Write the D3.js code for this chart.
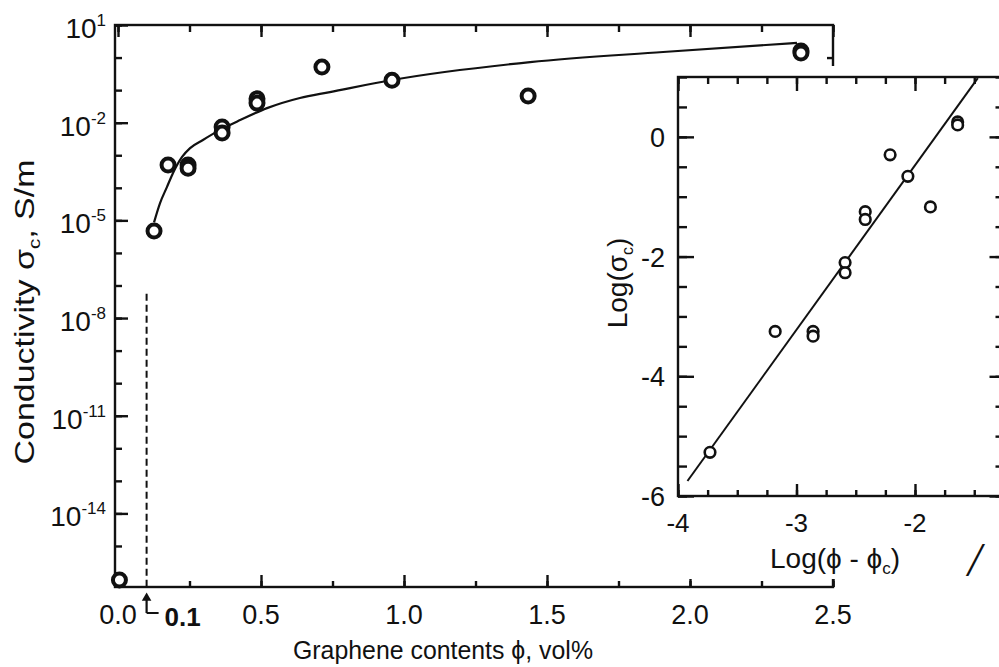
<!DOCTYPE html>
<html>
<head>
<meta charset="utf-8">
<script src="https://cdn.jsdelivr.net/npm/d3@7"></script>
<style>
  body { margin: 0; background: #fff; }
  svg { display: block; font-family: "Liberation Sans", Arial, sans-serif; }
  .axis path, .axis line { stroke: #111; stroke-width: 2.4; }
</style>
</head>
<body>
<svg width="999" height="667"></svg>
<script>
// main panel: measured points (phi in vol%, sigma in S/m)
const phi = [0.005, 0.126, 0.175, 0.245, 0.245, 0.364, 0.364, 0.486, 0.486, 0.713, 0.958, 1.434, 2.388, 2.388];
const sigma = [9e-17, 4.7e-6, 5e-4, 5e-4, 4e-4, 7.4e-3, 4.8e-3, 5.4e-2, 4e-2, 0.51, 0.2, 6.6e-2, 1.58, 1.38];

// fitted curve
const curvePhi = [0.126, 0.147, 0.171, 0.192, 0.224, 0.252, 0.297, 0.357, 0.427, 0.521, 0.636, 0.741, 0.958, 1.441, 1.906, 2.374];
const curveSigma = [8.7e-6, 3.4e-5, 1.05e-4, 2.8e-4, 8.9e-4, 1.66e-3, 2.95e-3, 6.0e-3, 1.2e-2, 2.8e-2, 5.75e-2, 8.7e-2, 0.204, 0.724, 1.48, 2.82];

const phiC = 0.1;
const dashTop = 5.6e-8;
const xTicks = [0, 0.5, 1.0, 1.5, 2.0, 2.5];
const yTickExp = [1, -2, -5, -8, -11, -14];

// inset: log-log
const insetX = [-3.73, -3.18, -2.86, -2.86, -2.59, -2.59, -2.42, -2.42, -2.21, -2.06, -1.87, -1.64, -1.64];
const insetY = [-5.27, -3.25, -3.25, -3.33, -2.1, -2.27, -1.25, -1.38, -0.3, -0.66, -1.17, 0.25, 0.2];
const fitX = [-3.92, -1.47];
const fitY = [-5.75, 0.98];
const insetXTicks = [-4, -3, -2];
const insetYTicks = [0, -2, -4, -6];

const svg = d3.select("svg");

const x = d3.scaleLinear().domain([-0.0105, 2.5]).range([115, 833]);
const y = d3.scaleLog().domain([Math.pow(10, -16.26), 10]).range([587, 25]);

const quarter = d3.range(0, 2.51, 0.25);
const isHalf = v => Math.abs(v * 2 - Math.round(v * 2)) < 1e-6;
const decades = d3.range(-16, 2).map(e => Math.pow(10, e));

// ---- main frame ----
function ticksOnly(g) {
  g.attr("class", "axis").select(".domain").remove();
  g.selectAll("text").remove();
}
// left
svg.append("g").attr("transform", `translate(${x.range()[0]},0)`)
  .call(d3.axisRight(y).tickValues(decades).tickSize(7).tickFormat(""))
  .call(ticksOnly);
svg.append("g").attr("transform", `translate(${x.range()[0]},0)`)
  .call(d3.axisRight(y).tickValues(yTickExp.map(e => Math.pow(10, e))).tickSize(13).tickFormat(""))
  .call(ticksOnly);
// bottom
svg.append("g").attr("transform", `translate(0,${y.range()[0]})`)
  .call(d3.axisTop(x).tickValues(quarter).tickSize(6).tickFormat(""))
  .call(ticksOnly);
svg.append("g").attr("transform", `translate(0,${y.range()[0]})`)
  .call(d3.axisTop(x).tickValues(quarter.filter(isHalf)).tickSize(12).tickFormat(""))
  .call(ticksOnly);
// top
svg.append("g").attr("transform", `translate(0,${y.range()[1]})`)
  .call(d3.axisBottom(x).tickValues(quarter).tickSize(7).tickFormat(""))
  .call(ticksOnly);
svg.append("g").attr("transform", `translate(0,${y.range()[1]})`)
  .call(d3.axisBottom(x).tickValues(quarter.filter(isHalf)).tickSize(12).tickFormat(""))
  .call(ticksOnly);
// right
svg.append("g").attr("transform", `translate(${x.range()[1]},0)`)
  .call(d3.axisLeft(y).tickValues([1]).tickSize(6).tickFormat(""))
  .call(ticksOnly);

svg.append("rect")
  .attr("x", x.range()[0]).attr("y", y.range()[1])
  .attr("width", x.range()[1] - x.range()[0])
  .attr("height", y.range()[0] - y.range()[1])
  .attr("fill", "none").attr("stroke", "#111").attr("stroke-width", 2.4);

// y tick labels with superscript exponents
const yLab = svg.append("g").attr("font-size", 28).attr("fill", "#111");
yTickExp.forEach(e => {
  const t = yLab.append("text")
    .attr("x", 106).attr("y", y(Math.pow(10, e)) + 13)
    .attr("text-anchor", "end");
  t.append("tspan").text("10");
  t.append("tspan").attr("font-size", 17).attr("dy", -12).text(String(e));
});

// x tick labels
svg.append("g").attr("font-size", 27).attr("fill", "#111")
  .selectAll("text").data(xTicks).join("text")
  .attr("x", d => x(d)).attr("y", 624)
  .attr("text-anchor", "middle")
  .text(d => d3.format(".1f")(d));

// axis titles
const yt = svg.append("text")
  .attr("transform", "translate(34,312) rotate(-90)")
  .attr("text-anchor", "middle").attr("font-size", 28).attr("fill", "#111")
  .attr("textLength", 305).attr("lengthAdjust", "spacingAndGlyphs");
yt.append("tspan").text("Conductivity σ");
yt.append("tspan").attr("font-size", 17).attr("dy", 6).text("c");
yt.append("tspan").attr("dy", -6).text(",  S/m");

svg.append("text")
  .attr("x", 443).attr("y", 659)
  .attr("text-anchor", "middle").attr("font-size", 26).attr("fill", "#111")
  .attr("textLength", 300).attr("lengthAdjust", "spacingAndGlyphs")
  .text("Graphene contents ϕ, vol%");

// percolation threshold marker
svg.append("line")
  .attr("x1", x(phiC)).attr("x2", x(phiC))
  .attr("y1", y(dashTop)).attr("y2", y.range()[0])
  .attr("stroke", "#111").attr("stroke-width", 2).attr("stroke-dasharray", "7,4");

svg.append("path")
  .attr("d", `M${x(phiC)},613V600M${x(phiC)},613H${x(phiC) + 12}`)
  .attr("fill", "none").attr("stroke", "#111").attr("stroke-width", 2.2);
svg.append("path")
  .attr("d", d3.symbol(d3.symbolTriangle, 40)())
  .attr("transform", `translate(${x(phiC)},598)`)
  .attr("fill", "#111");
svg.append("text")
  .attr("x", x(phiC) + 18).attr("y", 626)
  .attr("font-size", 26).attr("font-weight", "bold").attr("fill", "#111")
  .text("0.1");

// fit curve + points
const curveLine = d3.line().x(d => x(d[0])).y(d => y(d[1])).curve(d3.curveMonotoneX);
svg.append("path")
  .datum(d3.zip(curvePhi, curveSigma))
  .attr("d", curveLine)
  .attr("fill", "none").attr("stroke", "#111").attr("stroke-width", 2.2);

svg.append("g").selectAll("circle").data(d3.zip(phi, sigma)).join("circle")
  .attr("cx", d => x(d[0])).attr("cy", d => y(d[1])).attr("r", 6.5)
  .attr("fill", "#fff").attr("stroke", "#111").attr("stroke-width", 4);

// ---- inset ----
svg.append("rect")
  .attr("x", 600).attr("y", 66).attr("width", 400).attr("height", 513)
  .attr("fill", "#fff");

const ix = d3.scaleLinear().domain([-4, -1.27]).range([678, 1001.5]);
const iy = d3.scaleLinear().domain([-6, 1]).range([496, 77]);

const ixMinor = d3.range(-4, -1.26, 0.25);
const iyMinor = d3.range(-6, 1.01, 0.5);

svg.append("g").attr("transform", `translate(${ix.range()[0]},0)`)
  .call(d3.axisRight(iy).tickValues(iyMinor).tickSize(9).tickFormat("")).call(ticksOnly);
svg.append("g").attr("transform", `translate(${ix.range()[0]},0)`)
  .call(d3.axisRight(iy).tickValues(insetYTicks).tickSize(16).tickFormat("")).call(ticksOnly);
svg.append("g").attr("transform", `translate(${ix.range()[1]},0)`)
  .call(d3.axisLeft(iy).tickValues(iyMinor).tickSize(6).tickFormat("")).call(ticksOnly);
svg.append("g").attr("transform", `translate(${ix.range()[1]},0)`)
  .call(d3.axisLeft(iy).tickValues(insetYTicks).tickSize(12).tickFormat("")).call(ticksOnly);
svg.append("g").attr("transform", `translate(0,${iy.range()[0]})`)
  .call(d3.axisTop(ix).tickValues(ixMinor).tickSize(6).tickFormat("")).call(ticksOnly);
svg.append("g").attr("transform", `translate(0,${iy.range()[0]})`)
  .call(d3.axisTop(ix).tickValues(insetXTicks).tickSize(12).tickFormat("")).call(ticksOnly);
svg.append("g").attr("transform", `translate(0,${iy.range()[1]})`)
  .call(d3.axisBottom(ix).tickValues(ixMinor).tickSize(7).tickFormat("")).call(ticksOnly);
svg.append("g").attr("transform", `translate(0,${iy.range()[1]})`)
  .call(d3.axisBottom(ix).tickValues(insetXTicks).tickSize(14).tickFormat("")).call(ticksOnly);

svg.append("rect")
  .attr("x", ix.range()[0]).attr("y", iy.range()[1])
  .attr("width", ix.range()[1] - ix.range()[0])
  .attr("height", iy.range()[0] - iy.range()[1])
  .attr("fill", "none").attr("stroke", "#111").attr("stroke-width", 2.4);

svg.append("g").attr("font-size", 27).attr("fill", "#111")
  .selectAll("text").data(insetYTicks).join("text")
  .attr("x", 665).attr("y", d => iy(d) + 10)
  .attr("text-anchor", "end")
  .text(d => d);

svg.append("g").attr("font-size", 26).attr("fill", "#111")
  .selectAll("text").data(insetXTicks).join("text")
  .attr("x", d => ix(d)).attr("y", 532)
  .attr("text-anchor", "middle")
  .text(d => d);

const ixt = svg.append("text")
  .attr("x", 770).attr("y", 568).attr("font-size", 28).attr("fill", "#111");
ixt.append("tspan").text("Log(ϕ - ϕ");
ixt.append("tspan").attr("font-size", 17).attr("dy", 6).text("c");
ixt.append("tspan").attr("dy", -6).text(")");

const iyt = svg.append("text")
  .attr("transform", "translate(627,283) rotate(-90)")
  .attr("text-anchor", "middle").attr("font-size", 28).attr("fill", "#111");
iyt.append("tspan").text("Log(σ");
iyt.append("tspan").attr("font-size", 16).attr("dy", 6).text("c");
iyt.append("tspan").attr("dy", -6).text(")");

svg.append("line")
  .datum([fitX, fitY])
  .attr("x1", d => ix(d[0][0])).attr("y1", d => iy(d[1][0]))
  .attr("x2", d => ix(d[0][1])).attr("y2", d => iy(d[1][1]))
  .attr("stroke", "#111").attr("stroke-width", 2);

svg.append("g").selectAll("circle").data(d3.zip(insetX, insetY)).join("circle")
  .attr("cx", d => ix(d[0])).attr("cy", d => iy(d[1])).attr("r", 5.3)
  .attr("fill", "#fff").attr("stroke", "#111").attr("stroke-width", 2.6);

// stray mark at the lower right edge of the figure
svg.append("text")
  .attr("x", 968).attr("y", 576)
  .attr("font-size", 48).attr("font-style", "italic").attr("fill", "#111")
  .attr("font-family", "Liberation Serif, serif")
  .text("/");
</script>
</body>
</html>
